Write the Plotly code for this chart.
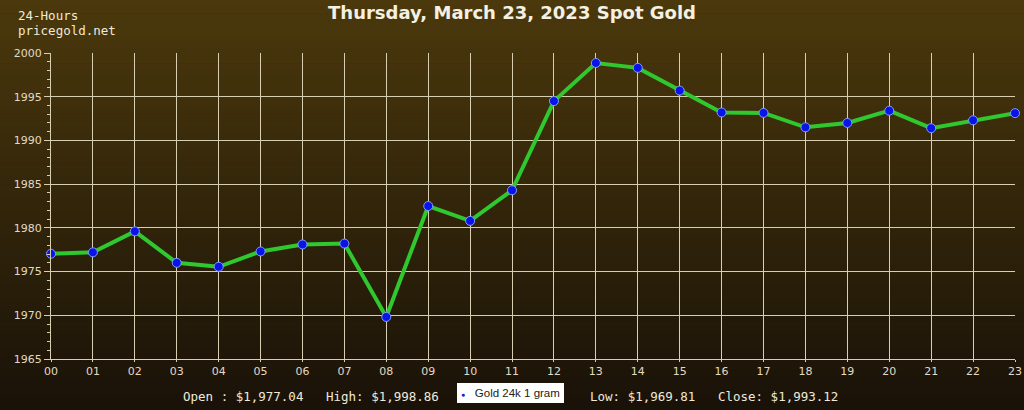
import plotly.graph_objects as go

hours = ["00", "01", "02", "03", "04", "05", "06", "07", "08", "09", "10", "11",
         "12", "13", "14", "15", "16", "17", "18", "19", "20", "21", "22", "23"]
prices = [1977.04, 1977.2, 1979.6, 1976.0, 1975.55, 1977.3, 1978.1, 1978.2,
          1969.81, 1982.5, 1980.8, 1984.3, 1994.5, 1998.86, 1998.3, 1995.7,
          1993.2, 1993.15, 1991.5, 1992.0, 1993.4, 1991.4, 1992.3, 1993.12]
y_ticks = [1965, 1970, 1975, 1980, 1985, 1990, 1995, 2000]
series_name = "Gold 24k 1 gram"
title_text = "Thursday, March 23, 2023 Spot Gold"
stats_left = "Open : $1,977.04   High: $1,998.86"
stats_right = "Low: $1,969.81   Close: $1,993.12"

xs = list(range(len(hours)))

fig = go.Figure()
fig.add_trace(go.Scatter(
    x=xs, y=prices, mode="lines+markers", name=series_name, showlegend=False,
    line=dict(color="#2fc82f", width=4),
    marker=dict(color="#0a14e6", size=9, line=dict(color="#7f9cff", width=1)),
    cliponaxis=False,
))

# vertical gradient background
top = (76, 57, 12)
bot = (24, 17, 8)
n = 60
y_top, y_bot = 1.2, -0.2
shapes = []
for i in range(n):
    t = i / (n - 1)
    c = tuple(int(round(top[k] + (bot[k] - top[k]) * t)) for k in range(3))
    y1 = y_top - (y_top - y_bot) * i / n
    y0 = y_top - (y_top - y_bot) * (i + 1) / n
    shapes.append(dict(type="rect", xref="paper", yref="paper",
                       x0=-0.1, x1=1.1, y0=y0 - 0.002, y1=y1,
                       fillcolor="rgb(%d,%d,%d)" % c, line=dict(width=0),
                       layer="below"))

grid_c = "#d8ceb2"
tick_font = dict(family="DejaVu Sans", size=11, color="#e2dac4")
mono = "DejaVu Sans Mono"
txt_c = "#f0ead8"

def px_x(p):
    return (p - 51) / 964

def px_y(p):
    return (359 - p) / 306

fig.update_layout(
    width=1024, height=410,
    margin=dict(l=51, r=9, t=53, b=51, autoexpand=False),
    paper_bgcolor="#2a1f0a", plot_bgcolor="rgba(0,0,0,0)",
    shapes=shapes,
    showlegend=False,
    title=dict(text="<b>" + title_text + "</b>", x=0.5, xanchor="center",
               y=0.97, yanchor="middle", yref="container",
               font=dict(family="DejaVu Sans", size=18, color="#f4f0e2")),
    xaxis=dict(range=[0, 23], tickmode="array", tickvals=xs, ticktext=hours,
               showgrid=True, gridcolor=grid_c, gridwidth=1,
               showline=True, linecolor=grid_c, linewidth=1,
               ticks="outside", ticklen=2, tickcolor=grid_c, automargin=False,
               tickfont=tick_font, zeroline=False, fixedrange=True),
    yaxis=dict(range=[1965, 2000], tickmode="array", tickvals=y_ticks,
               showgrid=True, gridcolor=grid_c, gridwidth=1,
               showline=True, linecolor=grid_c, linewidth=1,
               ticks="outside", ticklen=6, tickcolor=grid_c, automargin=False,
               minor=dict(dtick=1, ticks="outside", ticklen=3, tickcolor=grid_c,
                          showgrid=False),
               tickfont=tick_font, zeroline=False, fixedrange=True),
    annotations=[
        dict(text="24-Hours", xref="paper", yref="paper", x=px_x(16), y=px_y(16),
             xanchor="left", yanchor="middle", showarrow=False,
             font=dict(family=mono, size=12.5, color=txt_c)),
        dict(text="pricegold.net", xref="paper", yref="paper", x=px_x(16), y=px_y(30),
             xanchor="left", yanchor="middle", showarrow=False,
             font=dict(family=mono, size=12.5, color=txt_c)),
        dict(text=stats_left.replace(" ", "&nbsp;"), xref="paper", yref="paper",
             x=px_x(181), y=px_y(396), xanchor="left", yanchor="middle",
             showarrow=False, font=dict(family=mono, size=12.5, color=txt_c)),
        dict(text=stats_right.replace(" ", "&nbsp;"), xref="paper", yref="paper",
             x=px_x(588), y=px_y(396), xanchor="left", yanchor="middle",
             showarrow=False, font=dict(family=mono, size=12.5, color=txt_c)),
        dict(text='<span style="color:#0a14e6;font-size:7px">●</span>&nbsp;&nbsp;&nbsp;' + series_name,
             xref="paper", yref="paper", x=px_x(457), y=px_y(393),
             xanchor="left", yanchor="middle", showarrow=False,
             bgcolor="#ffffff", bordercolor="#ffffff", borderwidth=1, borderpad=3,
             align="left",
             font=dict(family="Liberation Sans", size=11.5, color="#222222")),
    ],
)

fig.write_html("out.html", config={"displayModeBar": False},
               post_script="document.body.style.margin='0';document.body.style.overflow='hidden';")
